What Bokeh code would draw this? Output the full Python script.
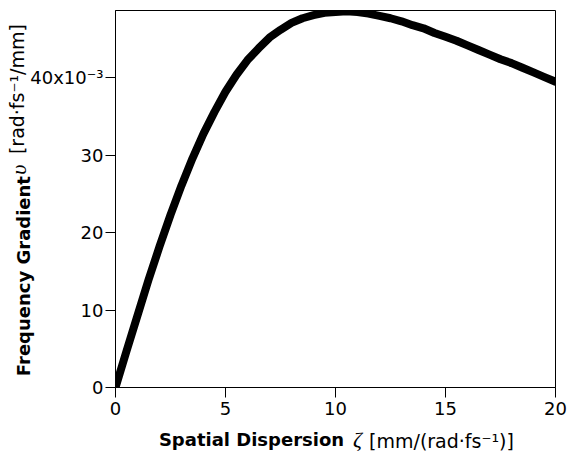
import numpy as np
from bokeh.plotting import figure
from bokeh.models import (FixedTicker, CustomJSTickFormatter, LinearAxis,
                          Range1d)
from bokeh.embed import file_html
from bokeh.resources import INLINE

# Spatial dispersion zeta [mm/(rad fs^-1)]
zeta = [0, 0.5, 1, 1.5, 2, 2.5, 3, 3.5, 4, 4.5, 5, 5.5, 6, 6.5, 7, 7.5, 8,
        8.5, 9, 9.5, 10, 10.5, 11, 11.5, 12, 12.5, 13, 13.5, 14, 14.5, 15,
        15.5, 16, 16.5, 17, 17.5, 18, 18.5, 19, 19.5, 20]
# Frequency gradient nu [rad fs^-1 / mm] (read in units of 1e-3)
nu_milli = [0, 4.7, 9.3, 13.9, 18.2, 22.3, 26.1, 29.6, 32.8, 35.6, 38.2,
            40.4, 42.3, 43.8, 45.2, 46.2, 47.1, 47.7, 48.1, 48.4, 48.5, 48.6,
            48.5, 48.3, 48.0, 47.7, 47.3, 46.8, 46.4, 45.8, 45.3, 44.8, 44.2,
            43.6, 43.0, 42.4, 41.9, 41.3, 40.7, 40.1, 39.5]
nu = [v * 1e-3 for v in nu_milli]

x_ticks = [0, 5, 10, 15, 20]
y_ticks = [0, 0.01, 0.02, 0.03, 0.04]

x_title = ["Spatial Dispersion", "\u03B6", "[mm/(rad\u00B7fs\u207B\u00B9)]"]
y_title = ["Frequency Gradient", "\u03C5", "[rad\u00B7fs\u207B\u00B9/mm]"]

FONT = "DejaVu Sans"
GREEK = "Liberation Serif"

X0, X1, Y0, Y1 = 0, 20, 0, 0.0487
W, H = 567, 454
BL, BR, BT, BB = 115, 12, 10, 65
FW, FH = W - BL - BR, H - BT - BB

p = figure(width=W, height=H, output_backend="svg", toolbar_location=None,
           x_range=Range1d(X0, X1), y_range=Range1d(Y0, Y1),
           min_border_left=BL, min_border_right=BR, min_border_top=BT,
           min_border_bottom=BB)
p.background_fill_color = "white"
p.border_fill_color = "white"
p.outline_line_color = "black"
p.outline_line_width = 1
p.grid.visible = False

p.line(zeta, nu, line_width=8, line_color="black", line_cap="round",
       line_join="round")

for ax in (p.xaxis[0], p.yaxis[0]):
    ax.major_tick_out = 10
    ax.major_tick_in = 0
    ax.minor_tick_out = 0
    ax.minor_tick_in = 0
    ax.axis_line_color = "black"
    ax.major_tick_line_color = "black"
    ax.major_label_text_font = FONT
    ax.major_label_text_font_size = "18px"
    ax.major_label_text_color = "black"
    ax.axis_label = None

p.xaxis[0].ticker = FixedTicker(ticks=x_ticks)
p.xaxis[0].major_label_standoff = 4
p.yaxis[0].ticker = FixedTicker(ticks=y_ticks)
p.yaxis[0].major_label_standoff = 2
p.yaxis[0].formatter = CustomJSTickFormatter(code="""
    const v = Math.round(tick * 1000);
    if (v == 40) { return "40x10\u207B\u00B3"; }
    return v.toString();
""")


def px_to_x(px):
    # page pixel (from left) -> data x, for placing title pieces
    return X0 + (px - BL) / FW * (X1 - X0)


def px_to_y(py):
    # page pixel (from top) -> data y
    return Y0 + (BT + FH - py) / FH * (Y1 - Y0)


def text_axis(side, pos, text, font, size, style, standoff, vertical=False):
    ax = LinearAxis(ticker=FixedTicker(ticks=[pos], minor_ticks=[]),
                    major_label_overrides={pos: text})
    ax.axis_line_color = None
    ax.major_tick_line_color = None
    ax.minor_tick_line_color = None
    ax.major_tick_out = 0
    ax.major_tick_in = 0
    ax.minor_tick_out = 0
    ax.minor_tick_in = 0
    ax.major_label_text_font = font
    ax.major_label_text_font_size = size
    ax.major_label_text_font_style = style
    ax.major_label_text_color = "black"
    ax.major_label_standoff = standoff
    if vertical:
        ax.major_label_orientation = "vertical"
    p.add_layout(ax, side)


# x title pieces (centres in page px)
text_axis("below", px_to_x(251), x_title[0], FONT, "18px", "bold", 11)
text_axis("below", px_to_x(357), x_title[1], GREEK, "22px", "italic", -26)
text_axis("below", px_to_x(441), x_title[2], FONT, "19px", "normal", -25)

# y title pieces (rotated)
text_axis("left", px_to_y(277), y_title[0], FONT, "18px", "bold", -7, True)
text_axis("left", px_to_y(170), y_title[1], GREEK, "22px", "italic", -21, True)
text_axis("left", px_to_y(89), y_title[2], FONT, "19px", "normal", -25, True)

open("out.html", "w").write(file_html(p, INLINE))
